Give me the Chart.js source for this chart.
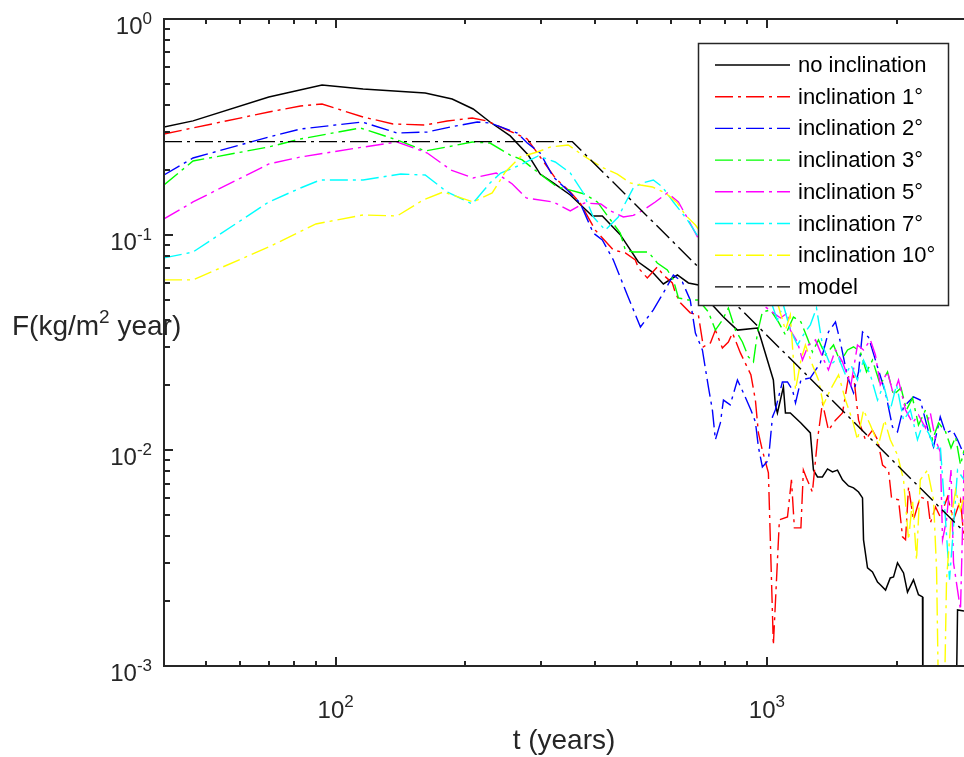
<!DOCTYPE html>
<html>
<head>
<meta charset="utf-8">
<script src="https://cdn.jsdelivr.net/npm/chart.js@4.4.0/dist/chart.umd.min.js"></script>
<style>
  body { margin: 0; background: #fff; }
  #wrap { width: 964px; height: 757px; }
</style>
</head>
<body>
<div id="wrap"><canvas id="fluxChart" width="964" height="757"></canvas></div>
<script>
// series as [t (years), F (kg/m2 year)]
// values below 1e-3 mean the curve drops out of the bottom of the plot
const noInclination = [[40,0.316],[46.7,0.337],[70,0.435],[93,0.494],[115.8,0.474],[161.3,0.454],[186.3,0.4256],[208.4,0.3826],[228,0.333],[254,0.287],[279.6,0.234],[298,0.191],[319.6,0.1737],[350,0.1528],[393.7,0.1221],[415.3,0.1221],[457,0.1],[503.4,0.0747],[542.4,0.0671],[575.3,0.0591],[620,0.065],[657.7,0.0597],[693.6,0.0584],[747.4,0.0472],[792.9,0.0415],[854.4,0.0361],[950.6,0.0369],[966,0.0335],[1035,0.0212],[1046,0.01624],[1057.6,0.0149],[1092,0.01968],[1104,0.0149],[1133,0.0149],[1199,0.0134],[1261,0.01204],[1282,0.0081],[1310,0.00753],[1345,0.00753],[1382,0.0082],[1419,0.00794],[1457.5,0.0081],[1497,0.0073],[1546,0.00684],[1588,0.0067],[1631,0.00641],[1666,0.00602],[1675,0.00384],[1711,0.00285],[1757,0.00273],[1805,0.00245],[1832,0.00238],[1884,0.00225],[1932,0.00256],[1966,0.00259],[2008,0.00301],[2074,0.0027],[2118,0.0022],[2187,0.00251],[2246,0.00214],[2295,0.00209],[2300,0.0004],[2738,0.0004],[2767,0.00182],[2864,0.0018]];

const incl1 = [[40,0.293],[46.7,0.3125],[70,0.3706],[82.9,0.395],[93,0.4036],[115.8,0.3512],[135.9,0.326],[161.3,0.3225],[181.4,0.3366],[207.4,0.3475],[224.6,0.3366],[250,0.3057],[278.2,0.2778],[298,0.2292],[323,0.1832],[350,0.1577],[369,0.1402],[400,0.105],[440.5,0.0849],[469.6,0.0823],[495.4,0.0763],[503.4,0.0701],[528,0.063],[557,0.0709],[575.3,0.065],[603.6,0.0597],[613.3,0.0537],[630,0.0483],[664,0.0434],[693.6,0.0424],[712.3,0.0302],[740,0.0315],[759.5,0.0361],[788.4,0.0298],[814,0.0318],[832,0.035],[868,0.0283],[918,0.0224],[940.4,0.0171],[955.6,0.01204],[976,0.01],[1008,0.00786],[1035,0.00125],[1069,0.00476],[1116,0.00491],[1140,0.0073],[1158,0.00437],[1199,0.00437],[1215,0.0081],[1235,0.00745],[1275,0.00641],[1310,0.0112],[1345,0.0166],[1389,0.0124],[1442,0.0138],[1497,0.0149],[1546,0.0219],[1588,0.0224],[1631,0.0138],[1692,0.0112],[1757,0.0124],[1805,0.0112],[1854,0.00855],[1914,0.0081],[1945,0.00602],[2019,0.00589],[2063,0.00397],[2096,0.00385],[2130,0.00677],[2187,0.00476],[2268,0.00608],[2357,0.00589],[2393,0.0046],[2460,0.00546],[2523,0.00491],[2623,0.00608],[2708,0.00476],[2811,0.00589],[2864,0.00385]];

const incl2 = [[40,0.1891],[46.7,0.2267],[70,0.2838],[82.9,0.309],[115.2,0.333],[138.9,0.296],[163.1,0.2993],[185,0.316],[213,0.333],[228,0.3296],[263.8,0.296],[278.2,0.266],[298,0.2391],[319.6,0.1851],[344.4,0.161],[369,0.1402],[395.8,0.1018],[415.3,0.0945],[440.5,0.0763],[474.6,0.0525],[509,0.0373],[545.3,0.0448],[575.3,0.0537],[606.9,0.065],[636.8,0.0603],[664,0.0498],[682.6,0.035],[708.6,0.0292],[731.6,0.01967],[747.4,0.0154],[759.5,0.0112],[780,0.0134],[792.9,0.0171],[822,0.01624],[854.4,0.0212],[882.2,0.01846],[918,0.0154],[940.4,0.01354],[955.6,0.01037],[976,0.00838],[1008,0.009],[1030,0.01428],[1046,0.0154],[1086,0.02075],[1116,0.02075],[1146,0.0191],[1165,0.0166],[1199,0.0212],[1261,0.02166],[1330,0.0254],[1389,0.0354],[1442,0.0394],[1480,0.0318],[1538,0.0219],[1588,0.01846],[1631,0.0231],[1666,0.0354],[1720,0.0335],[1785,0.0262],[1884,0.01846],[1955,0.01284],[2008,0.01217],[2074,0.0159],[2187,0.01769],[2268,0.0171],[2370,0.01217],[2434,0.01037],[2523,0.01428],[2595,0.01204],[2694,0.0124],[2767,0.0112],[2864,0.00952]];

const incl3 = [[40,0.17],[46.7,0.2196],[70,0.255],[82.9,0.2778],[114,0.3125],[138.9,0.2748],[161.3,0.2444],[181.4,0.255],[207.4,0.269],[228,0.266],[254,0.234],[270.8,0.222],[298,0.191],[326.5,0.1664],[350,0.161],[377.3,0.1544],[404.4,0.1418],[434,0.117],[457,0.1018],[469.6,0.0849],[490,0.0831],[531,0.0831],[557,0.0739],[587.7,0.0686],[606.9,0.0617],[623.4,0.0509],[657.7,0.0498],[693.6,0.0498],[731.6,0.0438],[759.5,0.0361],[788.4,0.0402],[814,0.0457],[845.3,0.0361],[877.5,0.0318],[906,0.0271],[930.5,0.0257],[950.6,0.035],[976,0.0438],[1019,0.0448],[1063,0.0394],[1104,0.0343],[1152,0.0415],[1199,0.0394],[1241,0.0332],[1275,0.0286],[1317,0.0325],[1367,0.0277],[1427,0.0308],[1480,0.0257],[1538,0.0292],[1588,0.0302],[1647,0.0286],[1702,0.0231],[1757,0.0262],[1832,0.0201],[1904,0.0231],[1966,0.01806],[2046,0.01947],[2107,0.0154],[2176,0.0175],[2246,0.0131],[2332,0.0154],[2421,0.0112],[2500,0.0134],[2595,0.0122],[2672,0.01026],[2738,0.01154],[2811,0.00855],[2864,0.01]];

const incl5 = [[40,0.1183],[46.7,0.1418],[70,0.2127],[82.9,0.2292],[112.2,0.2523],[138.9,0.269],[163.1,0.2391],[185,0.1995],[208.4,0.1832],[235.7,0.1932],[256.8,0.1718],[276.7,0.148],[319.6,0.1418],[350,0.1288],[377.3,0.1402],[412,0.1388],[434,0.1288],[464.6,0.1208],[490,0.1228],[517,0.13],[551,0.1418],[587.7,0.1561],[623.4,0.1418],[654,0.1195],[690,0.0976],[759.5,0.0747],[845.3,0.0617],[940.4,0.0509],[992,0.0462],[1035,0.0434],[1075,0.0411],[1116,0.0434],[1133,0.0361],[1177,0.0318],[1209,0.0262],[1248,0.0308],[1296,0.0325],[1345,0.0271],[1389,0.0236],[1442,0.0292],[1497,0.0257],[1566,0.0201],[1622,0.0308],[1675,0.0292],[1737,0.0325],[1785,0.0277],[1832,0.0201],[1904,0.0231],[1966,0.01806],[2019,0.0212],[2096,0.0154],[2176,0.0134],[2246,0.01459],[2332,0.0127],[2393,0.0149],[2460,0.0112],[2523,0.00983],[2554,0.00385],[2609,0.00476],[2672,0.0081],[2708,0.00301],[2767,0.00225],[2811,0.00182],[2864,0.0081]];

const incl7 = [[40,0.078],[46.7,0.0831],[70,0.1418],[82.9,0.1646],[92.1,0.1793],[115.8,0.1793],[141.6,0.191],[161.3,0.1891],[181.4,0.1577],[207.4,0.1388],[228,0.1737],[241.5,0.1932],[268,0.2104],[295,0.2317],[323,0.2173],[350,0.1932],[375.3,0.1561],[395.8,0.1208],[422,0.105],[452.3,0.1208],[469.6,0.1402],[490,0.1646],[514.3,0.1737],[545.3,0.1793],[572.3,0.1664],[606.9,0.1418],[654,0.117],[693.6,0.0976],[759.5,0.0747],[845.3,0.0617],[940.4,0.0514],[1019,0.0498],[1057.6,0.0402],[1092,0.0472],[1133,0.0361],[1177,0.0308],[1215,0.0343],[1261,0.0382],[1303,0.0457],[1345,0.0308],[1403,0.0249],[1466,0.0268],[1521,0.0224],[1566,0.0249],[1622,0.0212],[1675,0.0262],[1737,0.0224],[1805,0.0171],[1864,0.0201],[1932,0.0154],[1998,0.0201],[2074,0.0138],[2151,0.0154],[2234,0.0112],[2295,0.0131],[2370,0.01204],[2460,0.01],[2523,0.0106],[2595,0.00476],[2651,0.00251],[2694,0.00385],[2767,0.0081],[2864,0.0073]];

const incl10 = [[40,0.0617],[46.7,0.0617],[70,0.0877],[90,0.1121],[115.8,0.1234],[138.9,0.1221],[159.6,0.1448],[177.6,0.1577],[208.4,0.1418],[230.7,0.1561],[247.4,0.1953],[268,0.2292],[293.5,0.2417],[315,0.255],[346.3,0.2605],[373.3,0.234],[395.8,0.2173],[417.5,0.2038],[450,0.191],[482,0.1737],[509,0.17],[542.4,0.1664],[581.5,0.1561],[620,0.1402],[647,0.1234],[682.6,0.1109],[759.5,0.0831],[845.3,0.0671],[940.4,0.0554],[1019,0.0498],[1063,0.0467],[1104,0.0361],[1133,0.0424],[1165,0.0191],[1199,0.0262],[1228,0.0308],[1275,0.0249],[1317,0.0212],[1352,0.01624],[1403,0.0191],[1466,0.0224],[1521,0.0171],[1579,0.0138],[1622,0.0112],[1675,0.0154],[1737,0.0131],[1814,0.0106],[1874,0.0138],[1932,0.0112],[2008,0.00952],[2074,0.0073],[2130,0.00385],[2176,0.00589],[2223,0.0031],[2268,0.0073],[2357,0.0081],[2434,0.00589],[2474,0.00279],[2510,0.0004],[2567,0.0004],[2609,0.00251],[2672,0.00476],[2738,0.00655],[2811,0.00529],[2864,0.0061]];

const model = [[40,0.27],[354,0.27],[2864,0.0042]];

const seriesLabels = ['no inclination', 'inclination 1°', 'inclination 2°', 'inclination 3°',
                      'inclination 5°', 'inclination 7°', 'inclination 10°', 'model'];
const seriesData = [noInclination, incl1, incl2, incl3, incl5, incl7, incl10, model];
const seriesColors = ['#000000', '#ff0000', '#0000ff', '#00ff00', '#ff00ff', '#00ffff', '#ffff00', '#000000'];

const xTickExps = [2, 3];
const yTickExps = [0, -1, -2, -3];

const tMin = 40, tMax = 2864;
const fMin = 0.001, fMax = 1;

const FONT = '"Liberation Sans", Arial, sans-serif';
const AXIS_COLOR = '#262626';
const DASH_DOT = [18, 5, 3, 5];

const datasets = seriesData.map((pts, i) => ({
    label: seriesLabels[i],
    data: pts.map(p => ({ x: p[0], y: p[1] })),
    borderColor: seriesColors[i],
    borderWidth: i === 0 ? 1.5 : 1.4,
    borderDash: i === 0 ? [] : DASH_DOT,
    pointRadius: 0,
    tension: 0,
    fill: false,
    order: seriesData.length - i // later series drawn on top, like MATLAB
}));

// draw "10" with a superscript exponent
function drawPow(ctx, exp, x, y, align, baseSize, supSize, supRise) {
    const base = '10';
    const sup = String(exp);
    ctx.font = baseSize + 'px ' + FONT;
    const wb = ctx.measureText(base).width;
    ctx.font = supSize + 'px ' + FONT;
    const ws = ctx.measureText(sup).width;
    let left;
    if (align === 'right') left = x - wb - ws;
    else left = x - (wb + ws) / 2;
    ctx.textAlign = 'left';
    ctx.textBaseline = 'alphabetic';
    ctx.font = baseSize + 'px ' + FONT;
    ctx.fillText(base, left, y);
    ctx.font = supSize + 'px ' + FONT;
    ctx.fillText(sup, left + wb, y - supRise);
}

const axesPlugin = {
    id: 'matlabAxes',
    afterDatasetsDraw(chart) {
        const { ctx, chartArea: a } = chart;
        const xs = chart.scales.x, ys = chart.scales.y;
        ctx.save();
        ctx.strokeStyle = AXIS_COLOR;
        ctx.fillStyle = AXIS_COLOR;
        ctx.lineWidth = 2;

        ctx.beginPath();
        ctx.moveTo(a.left, a.top); ctx.lineTo(a.right, a.top);
        ctx.moveTo(a.left, a.top - 1); ctx.lineTo(a.left, a.bottom + 1);
        ctx.moveTo(a.left, a.bottom); ctx.lineTo(a.right, a.bottom);
        ctx.stroke();

        // log ticks, pointing inwards
        ctx.beginPath();
        for (let d = 1; d <= 3; d++) {
            for (let m = 1; m <= 9; m++) {
                const v = m * Math.pow(10, d);
                if (v < tMin || v > tMax) continue;
                const px = Math.round(xs.getPixelForValue(v));
                const len = m === 1 ? 9 : 5;
                ctx.moveTo(px, a.bottom); ctx.lineTo(px, a.bottom - len);
                ctx.moveTo(px, a.top); ctx.lineTo(px, a.top + len);
            }
        }
        for (let d = -3; d <= 0; d++) {
            for (let m = 1; m <= 9; m++) {
                const v = m * Math.pow(10, d);
                if (v < fMin || v > fMax * 1.0001) continue;
                const py = Math.round(ys.getPixelForValue(v));
                const len = m === 1 ? 9 : 6;
                ctx.moveTo(a.left, py); ctx.lineTo(a.left + len, py);
            }
        }
        ctx.stroke();

        // tick labels
        yTickExps.forEach(e => {
            const py = ys.getPixelForValue(Math.pow(10, e));
            drawPow(ctx, e, 152, py + 15, 'right', 24, 17, 10);
        });
        xTickExps.forEach(e => {
            const px = xs.getPixelForValue(Math.pow(10, e));
            drawPow(ctx, e, px, 718, 'center', 24, 17, 11);
        });

        // axis titles
        ctx.fillStyle = '#262626';
        ctx.font = '28px ' + FONT;
        ctx.textAlign = 'center';
        ctx.textBaseline = 'alphabetic';
        ctx.fillText('t (years)', (a.left + a.right) / 2, 749);

        ctx.textAlign = 'left';
        let lx = 12;
        const ly = 335;
        ctx.font = '28px ' + FONT;
        ctx.fillText('F(kg/m', lx, ly);
        lx += ctx.measureText('F(kg/m').width;
        ctx.font = '19px ' + FONT;
        ctx.fillText('2', lx, ly - 12);
        lx += ctx.measureText('2').width;
        ctx.font = '28px ' + FONT;
        ctx.fillText(' year)', lx, ly);
        ctx.restore();
    }
};

const legendPlugin = {
    id: 'boxLegend',
    afterDraw(chart) {
        const ctx = chart.ctx;
        const bx = 698, by = 43, bw = 250, bh = 262;
        ctx.save();
        ctx.fillStyle = '#ffffff';
        ctx.fillRect(bx, by, bw, bh);
        ctx.strokeStyle = '#262626';
        ctx.lineWidth = 1.5;
        ctx.strokeRect(bx + 0.5, by + 0.5, bw, bh);
        ctx.font = '22px ' + FONT;
        ctx.textBaseline = 'middle';
        ctx.textAlign = 'left';
        chart.data.datasets.forEach((ds, i) => {
            const yy = by + 22 + i * 31.7;
            ctx.strokeStyle = ds.borderColor;
            ctx.lineWidth = ds.borderWidth;
            ctx.setLineDash(ds.borderDash);
            ctx.beginPath();
            ctx.moveTo(715, yy);
            ctx.lineTo(790, yy);
            ctx.stroke();
            ctx.setLineDash([]);
            ctx.fillStyle = '#000000';
            ctx.fillText(ds.label, 798, yy + 1);
        });
        ctx.restore();
    }
};

const ctx = document.getElementById('fluxChart').getContext('2d');
const fluxChart = new Chart(ctx, {
    type: 'line',
    data: { datasets: datasets },
    options: {
        responsive: false,
        animation: false,
        devicePixelRatio: 1,
        layout: { padding: { left: 164, top: 19, right: 0, bottom: 91 } },
        plugins: { legend: { display: false }, tooltip: { enabled: false } },
        scales: {
            x: { type: 'logarithmic', min: tMin, max: tMax, display: false },
            y: { type: 'logarithmic', min: fMin, max: fMax, display: false }
        }
    },
    plugins: [axesPlugin, legendPlugin]
});
</script>
</body>
</html>
